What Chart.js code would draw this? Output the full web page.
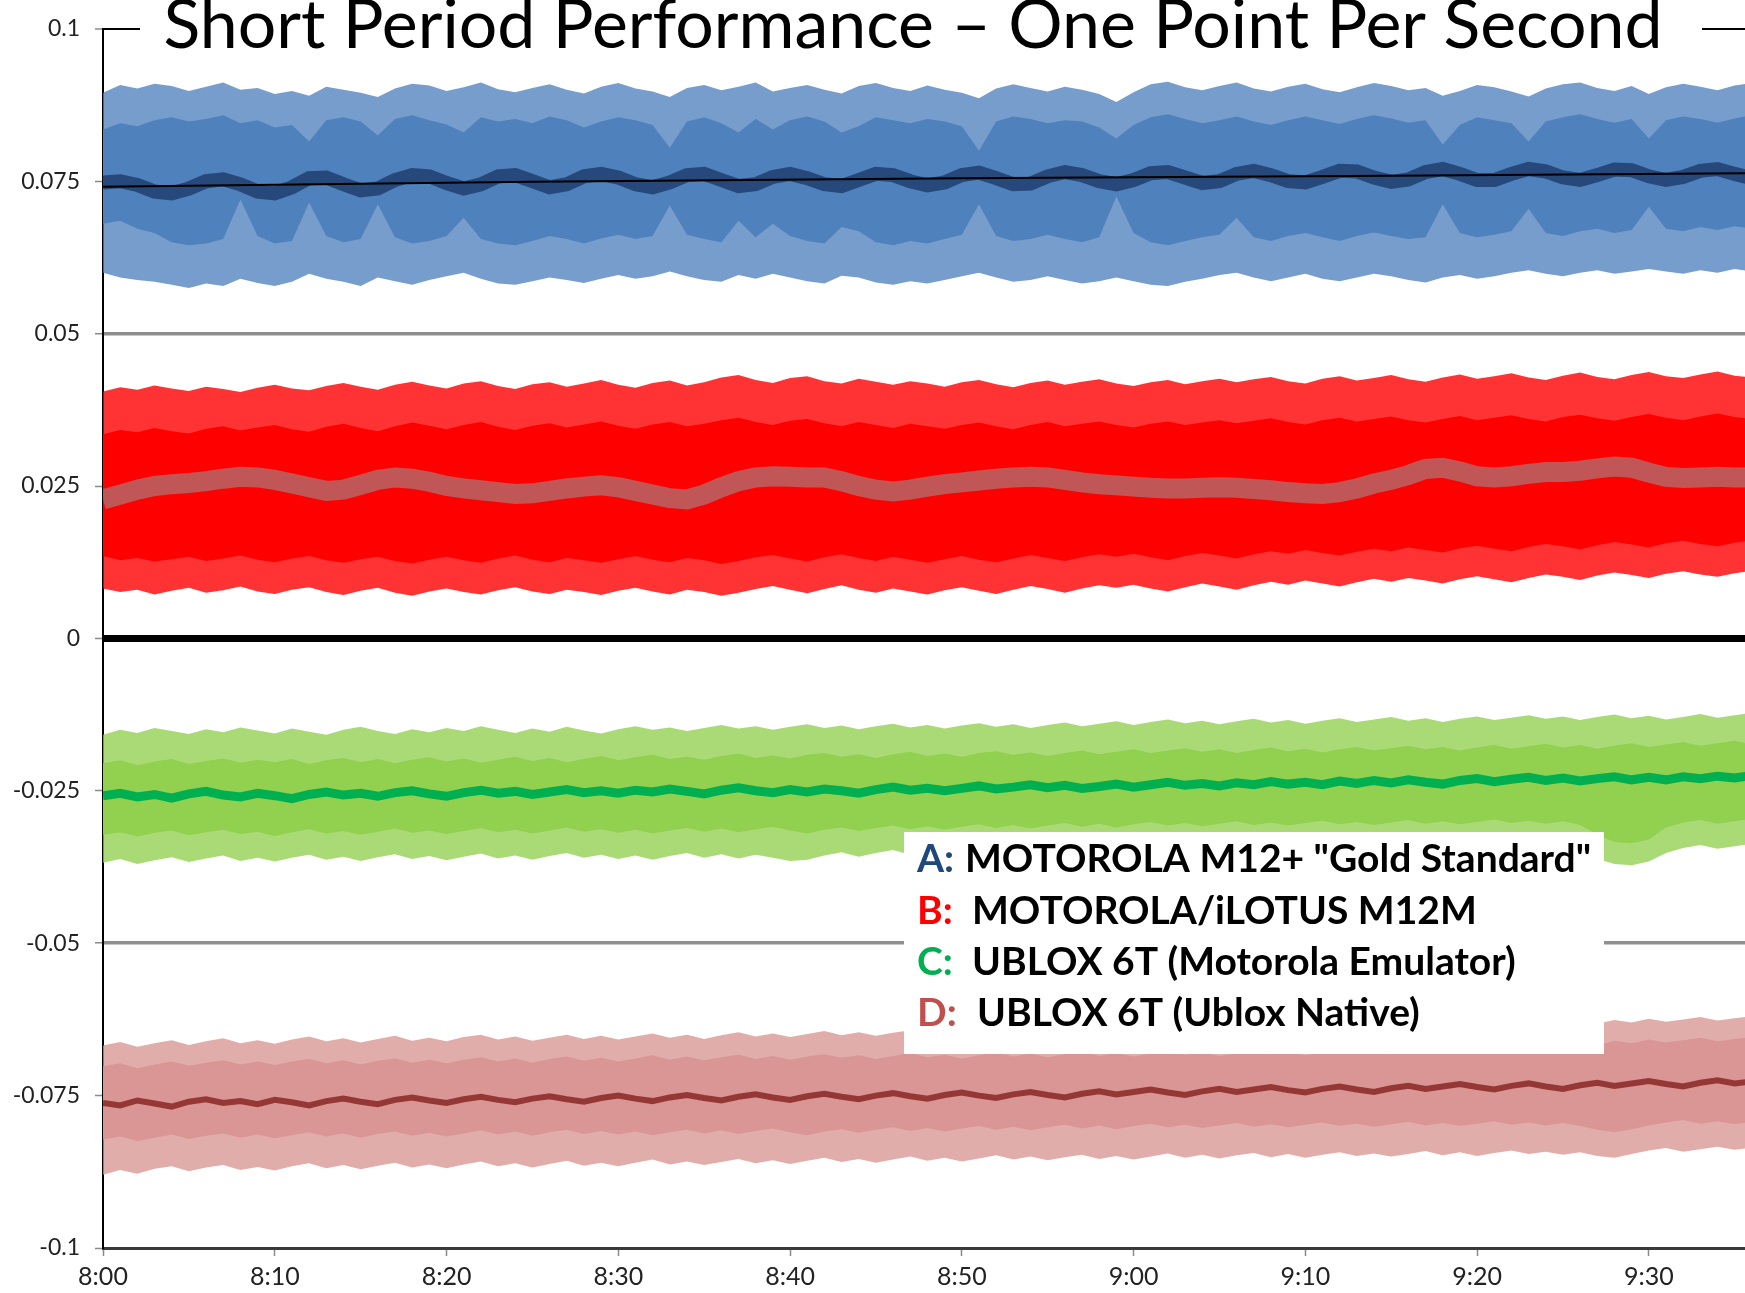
<!DOCTYPE html>
<html>
<head>
<meta charset="utf-8">
<title>Short Period Performance</title>
<script src="https://cdn.jsdelivr.net/npm/chart.js@4.4.0/dist/chart.umd.min.js"></script>
<style>
  html, body { margin: 0; padding: 0; background: #fff; }
  #wrap { position: relative; width: 1745px; height: 1293px; }
</style>
</head>
<body>
<div id="wrap"><canvas id="perfChart"></canvas></div>
<script>
// minutes after 8:00 (one column per minute)
const minutes = [
  0, 1, 2, 3, 4, 5, 6, 7, 8, 9,
  10, 11, 12, 13, 14, 15, 16, 17, 18, 19,
  20, 21, 22, 23, 24, 25, 26, 27, 28, 29,
  30, 31, 32, 33, 34, 35, 36, 37, 38, 39,
  40, 41, 42, 43, 44, 45, 46, 47, 48, 49,
  50, 51, 52, 53, 54, 55, 56, 57, 58, 59,
  60, 61, 62, 63, 64, 65, 66, 67, 68, 69,
  70, 71, 72, 73, 74, 75, 76, 77, 78, 79,
  80, 81, 82, 83, 84, 85, 86, 87, 88, 89,
  90, 91, 92, 93, 94, 95, 96
];

const xTickValues = [0, 10, 20, 30, 40, 50, 60, 70, 80, 90];
const xTickLabels = ['8:00', '8:10', '8:20', '8:30', '8:40', '8:50', '9:00', '9:10', '9:20', '9:30'];
const yTickValues = [-0.1, -0.075, -0.05, -0.025, 0, 0.025, 0.05, 0.075, 0.1];
const yTickLabels = ['-0.1', '-0.075', '-0.05', '-0.025', '0', '0.025', '0.05', '0.075', '0.1'];

// A: MOTOROLA M12+ - spike tips, dense body, dark running core, black trend
const blueMax = [
  0.0895,0.0908,0.0902,0.0910,0.0906,0.0898,0.0905,0.0912,0.0900,0.0903,
  0.0893,0.0898,0.0890,0.0905,0.0900,0.0895,0.0888,0.0902,0.0910,0.0907,
  0.0898,0.0904,0.0912,0.0901,0.0896,0.0903,0.0909,0.0900,0.0894,0.0905,
  0.0911,0.0902,0.0897,0.0888,0.0903,0.0908,0.0899,0.0905,0.0912,0.0897,
  0.0903,0.0908,0.0900,0.0894,0.0906,0.0911,0.0903,0.0898,0.0907,0.0900,
  0.0895,0.0886,0.0902,0.0909,0.0903,0.0897,0.0905,0.0900,0.0893,0.0880,
  0.0896,0.0909,0.0913,0.0904,0.0899,0.0906,0.0912,0.0902,0.0897,0.0905,
  0.0910,0.0901,0.0896,0.0904,0.0911,0.0906,0.0899,0.0903,0.0890,0.0898,
  0.0908,0.0904,0.0897,0.0889,0.0902,0.0909,0.0912,0.0903,0.0898,0.0906,
  0.0893,0.0904,0.0910,0.0905,0.0899,0.0907,0.0911
];
const blueHi = [
  0.0835,0.0845,0.0840,0.0850,0.0855,0.0848,0.0852,0.0858,0.0845,0.0850,
  0.0838,0.0842,0.0815,0.0850,0.0855,0.0848,0.0825,0.0852,0.0858,0.0850,
  0.0843,0.0830,0.0855,0.0848,0.0852,0.0845,0.0856,0.0850,0.0838,0.0848,
  0.0855,0.0850,0.0842,0.0805,0.0848,0.0855,0.0845,0.0830,0.0852,0.0835,
  0.0850,0.0856,0.0848,0.0830,0.0840,0.0855,0.0850,0.0845,0.0852,0.0848,
  0.0840,0.0800,0.0848,0.0856,0.0852,0.0845,0.0850,0.0848,0.0838,0.0820,
  0.0842,0.0855,0.0860,0.0852,0.0845,0.0850,0.0856,0.0848,0.0842,0.0850,
  0.0856,0.0850,0.0844,0.0852,0.0858,0.0853,0.0846,0.0850,0.0810,0.0842,
  0.0855,0.0850,0.0845,0.0815,0.0848,0.0855,0.0860,0.0852,0.0846,0.0852,
  0.0820,0.0850,0.0856,0.0852,0.0846,0.0853,0.0858
];
const blueLo = [
  0.0680,0.0685,0.0672,0.0665,0.0650,0.0645,0.0648,0.0655,0.0720,0.0660,
  0.0648,0.0652,0.0715,0.0660,0.0650,0.0655,0.0712,0.0658,0.0648,0.0652,
  0.0660,0.0690,0.0655,0.0648,0.0645,0.0652,0.0660,0.0655,0.0648,0.0656,
  0.0662,0.0655,0.0660,0.0710,0.0662,0.0655,0.0650,0.0685,0.0658,0.0680,
  0.0660,0.0652,0.0648,0.0675,0.0668,0.0650,0.0645,0.0652,0.0648,0.0655,
  0.0662,0.0712,0.0660,0.0652,0.0655,0.0662,0.0655,0.0650,0.0658,0.0725,
  0.0665,0.0650,0.0645,0.0652,0.0658,0.0662,0.0690,0.0658,0.0652,0.0660,
  0.0665,0.0658,0.0652,0.0660,0.0666,0.0660,0.0655,0.0658,0.0712,0.0665,
  0.0658,0.0662,0.0668,0.0705,0.0665,0.0660,0.0668,0.0672,0.0665,0.0670,
  0.0708,0.0672,0.0668,0.0675,0.0670,0.0676,0.0672
];
const blueMin = [
  0.0600,0.0592,0.0588,0.0585,0.0580,0.0575,0.0582,0.0578,0.0590,0.0583,
  0.0578,0.0585,0.0598,0.0590,0.0585,0.0578,0.0592,0.0586,0.0580,0.0588,
  0.0594,0.0600,0.0590,0.0582,0.0580,0.0586,0.0592,0.0588,0.0583,0.0590,
  0.0596,0.0590,0.0594,0.0602,0.0594,0.0588,0.0585,0.0596,0.0590,0.0598,
  0.0592,0.0586,0.0582,0.0595,0.0592,0.0584,0.0580,0.0586,0.0582,0.0588,
  0.0594,0.0600,0.0592,0.0585,0.0588,0.0594,0.0588,0.0582,0.0586,0.0592,
  0.0586,0.0580,0.0578,0.0585,0.0590,0.0596,0.0600,0.0592,0.0586,0.0592,
  0.0598,0.0590,0.0586,0.0592,0.0598,0.0594,0.0588,0.0584,0.0592,0.0596,
  0.0590,0.0594,0.0600,0.0604,0.0598,0.0594,0.0600,0.0604,0.0598,0.0602,
  0.0606,0.0602,0.0598,0.0604,0.0600,0.0606,0.0602
];
const blueMean = [
  0.0748,0.0750,0.0744,0.0733,0.0730,0.0738,0.0750,0.0753,0.0745,0.0733,
  0.0730,0.0740,0.0755,0.0756,0.0745,0.0735,0.0738,0.0752,0.0760,0.0758,
  0.0747,0.0738,0.0745,0.0758,0.0760,0.0750,0.0740,0.0745,0.0758,0.0762,
  0.0756,0.0745,0.0740,0.0748,0.0760,0.0762,0.0752,0.0742,0.0745,0.0757,
  0.0762,0.0755,0.0745,0.0742,0.0752,0.0762,0.0760,0.0750,0.0743,0.0748,
  0.0760,0.0764,0.0755,0.0745,0.0746,0.0758,0.0765,0.0760,0.0750,0.0745,
  0.0752,0.0763,0.0765,0.0756,0.0747,0.0750,0.0762,0.0767,0.0760,0.0750,
  0.0748,0.0757,0.0767,0.0766,0.0756,0.0749,0.0753,0.0765,0.0770,0.0762,
  0.0752,0.0752,0.0762,0.0770,0.0766,0.0756,0.0752,0.0760,0.0769,0.0768,
  0.0758,0.0752,0.0757,0.0767,0.0770,0.0762,0.0755
];
const trendMinutes = [0, 25, 50, 75, 96];
const blueTrend = [0.0741, 0.0749, 0.0755, 0.0759, 0.0763];

// B: MOTOROLA/iLOTUS M12M
const redMax = [
  0.0405,0.0412,0.0408,0.0415,0.0410,0.0406,0.0413,0.0409,0.0404,0.0411,
  0.0416,0.0410,0.0407,0.0414,0.0419,0.0413,0.0408,0.0416,0.0421,0.0415,
  0.0410,0.0418,0.0422,0.0414,0.0409,0.0417,0.0420,0.0413,0.0418,0.0424,
  0.0416,0.0411,0.0419,0.0423,0.0415,0.0420,0.0428,0.0432,0.0424,0.0419,
  0.0427,0.0430,0.0422,0.0418,0.0426,0.0421,0.0416,0.0422,0.0418,0.0413,
  0.0420,0.0424,0.0417,0.0412,0.0419,0.0423,0.0416,0.0421,0.0425,0.0418,
  0.0414,0.0420,0.0424,0.0417,0.0422,0.0426,0.0420,0.0425,0.0429,0.0422,
  0.0418,0.0426,0.0430,0.0423,0.0427,0.0432,0.0425,0.0421,0.0428,0.0433,
  0.0426,0.0430,0.0435,0.0428,0.0424,0.0431,0.0436,0.0429,0.0425,0.0432,
  0.0437,0.0430,0.0427,0.0433,0.0438,0.0431,0.0428
];
const redHi = [
  0.0335,0.0342,0.0338,0.0345,0.0340,0.0336,0.0344,0.0348,0.0341,0.0346,
  0.0350,0.0343,0.0339,0.0347,0.0352,0.0345,0.0340,0.0348,0.0354,0.0349,
  0.0343,0.0350,0.0355,0.0347,0.0342,0.0349,0.0353,0.0346,0.0351,0.0356,
  0.0349,0.0344,0.0351,0.0355,0.0348,0.0352,0.0358,0.0362,0.0355,0.0350,
  0.0357,0.0360,0.0353,0.0348,0.0355,0.0350,0.0345,0.0352,0.0348,0.0344,
  0.0350,0.0354,0.0348,0.0343,0.0350,0.0355,0.0348,0.0352,0.0356,0.0350,
  0.0346,0.0352,0.0356,0.0350,0.0354,0.0358,0.0353,0.0357,0.0361,0.0355,
  0.0351,0.0358,0.0362,0.0356,0.0360,0.0364,0.0358,0.0354,0.0360,0.0365,
  0.0358,0.0362,0.0366,0.0360,0.0356,0.0363,0.0367,0.0361,0.0357,0.0363,
  0.0368,0.0362,0.0358,0.0364,0.0369,0.0363,0.0360
];
const redLo = [
  0.0135,0.0128,0.0132,0.0126,0.0130,0.0134,0.0127,0.0131,0.0136,0.0129,
  0.0125,0.0131,0.0135,0.0128,0.0124,0.0130,0.0134,0.0127,0.0123,0.0129,
  0.0134,0.0128,0.0124,0.0131,0.0136,0.0129,0.0125,0.0132,0.0128,0.0124,
  0.0130,0.0135,0.0129,0.0125,0.0132,0.0128,0.0122,0.0127,0.0133,0.0137,
  0.0131,0.0126,0.0133,0.0138,0.0132,0.0127,0.0134,0.0129,0.0124,0.0130,
  0.0135,0.0129,0.0125,0.0131,0.0137,0.0132,0.0127,0.0133,0.0138,0.0134,
  0.0139,0.0133,0.0128,0.0135,0.0140,0.0136,0.0131,0.0138,0.0143,0.0139,
  0.0145,0.0140,0.0136,0.0142,0.0147,0.0143,0.0149,0.0145,0.0141,0.0148,
  0.0152,0.0147,0.0143,0.0150,0.0155,0.0151,0.0146,0.0153,0.0158,0.0154,
  0.0149,0.0156,0.0160,0.0155,0.0151,0.0157,0.0161
];
const redMin = [
  0.0082,0.0076,0.0080,0.0072,0.0078,0.0083,0.0075,0.0079,0.0085,0.0077,
  0.0073,0.0080,0.0084,0.0076,0.0071,0.0078,0.0083,0.0075,0.0070,0.0077,
  0.0082,0.0076,0.0072,0.0079,0.0084,0.0077,0.0073,0.0080,0.0076,0.0071,
  0.0078,0.0083,0.0077,0.0072,0.0080,0.0076,0.0070,0.0075,0.0081,0.0086,
  0.0080,0.0074,0.0081,0.0087,0.0080,0.0075,0.0082,0.0077,0.0072,0.0079,
  0.0084,0.0078,0.0073,0.0080,0.0086,0.0081,0.0075,0.0082,0.0087,0.0083,
  0.0088,0.0082,0.0077,0.0084,0.0090,0.0085,0.0080,0.0087,0.0093,0.0088,
  0.0095,0.0090,0.0085,0.0092,0.0098,0.0093,0.0099,0.0095,0.0090,0.0097,
  0.0102,0.0097,0.0092,0.0099,0.0105,0.0101,0.0096,0.0103,0.0108,0.0104,
  0.0099,0.0106,0.0110,0.0105,0.0101,0.0107,0.0111
];
const redMean = [
  0.0228,0.0236,0.0244,0.0250,0.0253,0.0255,0.0258,0.0262,0.0265,0.0264,
  0.0260,0.0254,0.0248,0.0242,0.0244,0.0252,0.0260,0.0264,0.0262,0.0257,
  0.0250,0.0246,0.0243,0.0240,0.0237,0.0238,0.0242,0.0246,0.0249,0.0251,
  0.0248,0.0242,0.0236,0.0230,0.0228,0.0236,0.0248,0.0258,0.0264,0.0266,
  0.0265,0.0264,0.0264,0.0258,0.0250,0.0244,0.0241,0.0244,0.0249,0.0253,
  0.0256,0.0259,0.0262,0.0264,0.0265,0.0264,0.0260,0.0256,0.0253,0.0251,
  0.0249,0.0247,0.0246,0.0246,0.0247,0.0248,0.0247,0.0245,0.0243,0.0240,
  0.0238,0.0237,0.0240,0.0246,0.0254,0.0260,0.0268,0.0278,0.0280,0.0274,
  0.0266,0.0264,0.0266,0.0270,0.0273,0.0273,0.0275,0.0279,0.0282,0.0280,
  0.0272,0.0265,0.0263,0.0264,0.0265,0.0264,0.0264
];

// C: UBLOX 6T (Motorola Emulator)
const greenMax = [
  -0.0158,-0.0150,-0.0155,-0.0147,-0.0152,-0.0157,-0.0149,-0.0154,-0.0146,-0.0151,
  -0.0156,-0.0148,-0.0153,-0.0158,-0.0150,-0.0145,-0.0152,-0.0157,-0.0149,-0.0154,
  -0.0147,-0.0152,-0.0144,-0.0150,-0.0155,-0.0148,-0.0153,-0.0145,-0.0151,-0.0156,
  -0.0149,-0.0144,-0.0150,-0.0146,-0.0152,-0.0147,-0.0142,-0.0148,-0.0144,-0.0150,
  -0.0145,-0.0141,-0.0147,-0.0143,-0.0149,-0.0144,-0.0140,-0.0146,-0.0142,-0.0148,
  -0.0143,-0.0139,-0.0145,-0.0141,-0.0147,-0.0142,-0.0138,-0.0144,-0.0140,-0.0136,
  -0.0142,-0.0137,-0.0133,-0.0139,-0.0135,-0.0141,-0.0136,-0.0132,-0.0138,-0.0134,
  -0.0140,-0.0135,-0.0131,-0.0137,-0.0133,-0.0129,-0.0135,-0.0131,-0.0137,-0.0132,
  -0.0128,-0.0134,-0.0130,-0.0126,-0.0132,-0.0128,-0.0134,-0.0129,-0.0125,-0.0131,
  -0.0127,-0.0133,-0.0129,-0.0124,-0.0130,-0.0126,-0.0122
];
const greenHi = [
  -0.0205,-0.0200,-0.0208,-0.0202,-0.0198,-0.0206,-0.0201,-0.0197,-0.0204,-0.0199,
  -0.0203,-0.0198,-0.0206,-0.0200,-0.0196,-0.0203,-0.0198,-0.0205,-0.0199,-0.0195,
  -0.0202,-0.0197,-0.0204,-0.0199,-0.0194,-0.0201,-0.0196,-0.0203,-0.0198,-0.0193,
  -0.0200,-0.0195,-0.0191,-0.0198,-0.0194,-0.0199,-0.0193,-0.0189,-0.0196,-0.0192,
  -0.0197,-0.0191,-0.0188,-0.0194,-0.0190,-0.0196,-0.0190,-0.0186,-0.0193,-0.0189,
  -0.0194,-0.0188,-0.0185,-0.0191,-0.0187,-0.0193,-0.0188,-0.0184,-0.0190,-0.0186,
  -0.0182,-0.0188,-0.0184,-0.0180,-0.0186,-0.0182,-0.0188,-0.0183,-0.0179,-0.0185,
  -0.0181,-0.0187,-0.0182,-0.0178,-0.0184,-0.0180,-0.0176,-0.0182,-0.0178,-0.0184,
  -0.0179,-0.0175,-0.0181,-0.0177,-0.0173,-0.0179,-0.0175,-0.0181,-0.0176,-0.0172,
  -0.0178,-0.0174,-0.0170,-0.0176,-0.0172,-0.0168,-0.0174
];
const greenLo = [
  -0.0322,-0.0318,-0.0325,-0.0319,-0.0315,-0.0323,-0.0318,-0.0314,-0.0321,-0.0317,
  -0.0324,-0.0318,-0.0313,-0.0320,-0.0316,-0.0322,-0.0317,-0.0312,-0.0319,-0.0315,
  -0.0321,-0.0316,-0.0311,-0.0318,-0.0314,-0.0320,-0.0315,-0.0310,-0.0317,-0.0313,
  -0.0319,-0.0314,-0.0320,-0.0315,-0.0311,-0.0317,-0.0312,-0.0318,-0.0313,-0.0309,
  -0.0315,-0.0320,-0.0314,-0.0310,-0.0316,-0.0311,-0.0307,-0.0313,-0.0308,-0.0314,
  -0.0309,-0.0305,-0.0311,-0.0306,-0.0312,-0.0307,-0.0303,-0.0309,-0.0304,-0.0310,
  -0.0305,-0.0301,-0.0307,-0.0303,-0.0308,-0.0304,-0.0300,-0.0306,-0.0302,-0.0307,
  -0.0303,-0.0299,-0.0305,-0.0301,-0.0306,-0.0302,-0.0298,-0.0304,-0.0300,-0.0305,
  -0.0301,-0.0297,-0.0303,-0.0299,-0.0304,-0.0300,-0.0306,-0.0322,-0.0334,-0.0336,
  -0.0330,-0.0310,-0.0302,-0.0298,-0.0304,-0.0300,-0.0296
];
const greenMin = [
  -0.0368,-0.0362,-0.0370,-0.0364,-0.0359,-0.0367,-0.0361,-0.0356,-0.0365,-0.0360,
  -0.0366,-0.0360,-0.0355,-0.0363,-0.0358,-0.0365,-0.0359,-0.0354,-0.0362,-0.0357,
  -0.0364,-0.0358,-0.0353,-0.0361,-0.0356,-0.0363,-0.0357,-0.0352,-0.0360,-0.0355,
  -0.0362,-0.0356,-0.0363,-0.0357,-0.0352,-0.0360,-0.0354,-0.0361,-0.0355,-0.0360,
  -0.0365,-0.0363,-0.0356,-0.0351,-0.0358,-0.0352,-0.0347,-0.0355,-0.0349,-0.0356,
  -0.0350,-0.0346,-0.0353,-0.0347,-0.0354,-0.0348,-0.0344,-0.0351,-0.0345,-0.0352,
  -0.0346,-0.0342,-0.0349,-0.0344,-0.0350,-0.0345,-0.0341,-0.0348,-0.0343,-0.0349,
  -0.0344,-0.0340,-0.0347,-0.0342,-0.0348,-0.0343,-0.0339,-0.0346,-0.0341,-0.0347,
  -0.0342,-0.0338,-0.0345,-0.0340,-0.0346,-0.0341,-0.0350,-0.0362,-0.0370,-0.0372,
  -0.0366,-0.0352,-0.0344,-0.0339,-0.0345,-0.0341,-0.0337
];
const greenMean = [
  -0.0258,-0.0254,-0.0260,-0.0256,-0.0262,-0.0255,-0.0251,-0.0257,-0.0260,-0.0254,
  -0.0258,-0.0263,-0.0256,-0.0252,-0.0257,-0.0254,-0.0259,-0.0253,-0.0250,-0.0255,
  -0.0259,-0.0253,-0.0249,-0.0254,-0.0251,-0.0256,-0.0252,-0.0248,-0.0253,-0.0250,
  -0.0254,-0.0249,-0.0252,-0.0247,-0.0251,-0.0255,-0.0249,-0.0245,-0.0250,-0.0253,
  -0.0248,-0.0252,-0.0247,-0.0250,-0.0254,-0.0248,-0.0244,-0.0249,-0.0246,-0.0250,
  -0.0246,-0.0242,-0.0247,-0.0244,-0.0240,-0.0245,-0.0241,-0.0246,-0.0243,-0.0239,
  -0.0244,-0.0240,-0.0236,-0.0241,-0.0238,-0.0242,-0.0237,-0.0240,-0.0235,-0.0239,
  -0.0236,-0.0240,-0.0234,-0.0238,-0.0233,-0.0237,-0.0232,-0.0236,-0.0239,-0.0233,
  -0.0230,-0.0235,-0.0231,-0.0228,-0.0233,-0.0229,-0.0234,-0.0230,-0.0227,-0.0232,
  -0.0228,-0.0232,-0.0227,-0.0230,-0.0226,-0.0229,-0.0225
];

// D: UBLOX 6T (Ublox Native)
const brownMax = [
  -0.0668,-0.0662,-0.0670,-0.0664,-0.0659,-0.0667,-0.0661,-0.0656,-0.0664,-0.0659,
  -0.0665,-0.0658,-0.0653,-0.0661,-0.0656,-0.0663,-0.0657,-0.0652,-0.0660,-0.0655,
  -0.0661,-0.0654,-0.0650,-0.0658,-0.0653,-0.0660,-0.0655,-0.0650,-0.0657,-0.0652,
  -0.0658,-0.0653,-0.0648,-0.0655,-0.0650,-0.0657,-0.0651,-0.0646,-0.0653,-0.0648,
  -0.0654,-0.0649,-0.0644,-0.0651,-0.0646,-0.0652,-0.0647,-0.0643,-0.0650,-0.0645,
  -0.0651,-0.0646,-0.0642,-0.0649,-0.0644,-0.0650,-0.0645,-0.0641,-0.0648,-0.0643,
  -0.0649,-0.0644,-0.0640,-0.0647,-0.0642,-0.0648,-0.0643,-0.0639,-0.0646,-0.0641,
  -0.0647,-0.0642,-0.0638,-0.0645,-0.0640,-0.0646,-0.0641,-0.0637,-0.0644,-0.0640,
  -0.0645,-0.0640,-0.0636,-0.0643,-0.0638,-0.0644,-0.0639,-0.0632,-0.0626,-0.0630,
  -0.0624,-0.0629,-0.0625,-0.0621,-0.0627,-0.0623,-0.0620
];
const brownHi = [
  -0.0702,-0.0697,-0.0705,-0.0699,-0.0694,-0.0701,-0.0696,-0.0692,-0.0699,-0.0694,
  -0.0700,-0.0694,-0.0690,-0.0697,-0.0692,-0.0699,-0.0693,-0.0689,-0.0696,-0.0691,
  -0.0697,-0.0691,-0.0687,-0.0694,-0.0689,-0.0696,-0.0690,-0.0686,-0.0693,-0.0688,
  -0.0694,-0.0689,-0.0684,-0.0691,-0.0686,-0.0692,-0.0687,-0.0683,-0.0690,-0.0685,
  -0.0691,-0.0686,-0.0682,-0.0688,-0.0684,-0.0690,-0.0685,-0.0680,-0.0687,-0.0683,
  -0.0689,-0.0684,-0.0679,-0.0686,-0.0681,-0.0687,-0.0682,-0.0678,-0.0685,-0.0680,
  -0.0686,-0.0681,-0.0677,-0.0683,-0.0679,-0.0685,-0.0680,-0.0676,-0.0682,-0.0678,
  -0.0684,-0.0679,-0.0675,-0.0681,-0.0677,-0.0682,-0.0678,-0.0674,-0.0680,-0.0676,
  -0.0681,-0.0677,-0.0673,-0.0679,-0.0675,-0.0680,-0.0676,-0.0668,-0.0660,-0.0664,
  -0.0658,-0.0663,-0.0659,-0.0655,-0.0661,-0.0657,-0.0654
];
const brownLo = [
  -0.0822,-0.0817,-0.0825,-0.0819,-0.0814,-0.0821,-0.0816,-0.0812,-0.0819,-0.0814,
  -0.0820,-0.0815,-0.0810,-0.0817,-0.0812,-0.0819,-0.0813,-0.0809,-0.0816,-0.0811,
  -0.0817,-0.0812,-0.0807,-0.0814,-0.0809,-0.0816,-0.0810,-0.0806,-0.0813,-0.0808,
  -0.0814,-0.0809,-0.0815,-0.0810,-0.0806,-0.0812,-0.0807,-0.0813,-0.0808,-0.0804,
  -0.0810,-0.0815,-0.0809,-0.0805,-0.0811,-0.0806,-0.0802,-0.0808,-0.0803,-0.0809,
  -0.0804,-0.0800,-0.0806,-0.0801,-0.0807,-0.0802,-0.0798,-0.0804,-0.0799,-0.0805,
  -0.0800,-0.0796,-0.0802,-0.0798,-0.0803,-0.0799,-0.0795,-0.0801,-0.0797,-0.0802,
  -0.0798,-0.0794,-0.0800,-0.0796,-0.0801,-0.0797,-0.0793,-0.0799,-0.0795,-0.0800,
  -0.0796,-0.0792,-0.0798,-0.0794,-0.0799,-0.0795,-0.0800,-0.0806,-0.0810,-0.0805,
  -0.0799,-0.0794,-0.0790,-0.0796,-0.0792,-0.0797,-0.0793
];
const brownMin = [
  -0.0880,-0.0872,-0.0878,-0.0870,-0.0866,-0.0874,-0.0868,-0.0864,-0.0872,-0.0867,
  -0.0873,-0.0866,-0.0861,-0.0869,-0.0864,-0.0871,-0.0865,-0.0860,-0.0868,-0.0863,
  -0.0869,-0.0863,-0.0858,-0.0866,-0.0861,-0.0868,-0.0862,-0.0857,-0.0865,-0.0860,
  -0.0866,-0.0860,-0.0855,-0.0863,-0.0858,-0.0864,-0.0859,-0.0854,-0.0861,-0.0856,
  -0.0862,-0.0857,-0.0852,-0.0859,-0.0854,-0.0860,-0.0855,-0.0850,-0.0857,-0.0852,
  -0.0858,-0.0853,-0.0848,-0.0855,-0.0850,-0.0856,-0.0851,-0.0847,-0.0854,-0.0849,
  -0.0855,-0.0850,-0.0845,-0.0852,-0.0847,-0.0853,-0.0848,-0.0844,-0.0851,-0.0846,
  -0.0852,-0.0847,-0.0843,-0.0849,-0.0845,-0.0850,-0.0846,-0.0841,-0.0848,-0.0843,
  -0.0849,-0.0844,-0.0840,-0.0846,-0.0842,-0.0847,-0.0843,-0.0849,-0.0852,-0.0846,
  -0.0840,-0.0836,-0.0842,-0.0838,-0.0834,-0.0839,-0.0835
];
const brownMean = [
  -0.0762,-0.0766,-0.0758,-0.0763,-0.0768,-0.0760,-0.0756,-0.0762,-0.0759,-0.0764,
  -0.0757,-0.0761,-0.0766,-0.0759,-0.0755,-0.0760,-0.0764,-0.0757,-0.0753,-0.0758,
  -0.0762,-0.0756,-0.0752,-0.0757,-0.0761,-0.0755,-0.0751,-0.0756,-0.0760,-0.0754,
  -0.0750,-0.0755,-0.0759,-0.0753,-0.0749,-0.0754,-0.0758,-0.0752,-0.0748,-0.0753,
  -0.0757,-0.0751,-0.0747,-0.0752,-0.0756,-0.0750,-0.0746,-0.0751,-0.0755,-0.0749,
  -0.0745,-0.0750,-0.0754,-0.0748,-0.0744,-0.0749,-0.0753,-0.0747,-0.0743,-0.0748,
  -0.0744,-0.0740,-0.0745,-0.0749,-0.0743,-0.0739,-0.0744,-0.0740,-0.0736,-0.0741,
  -0.0745,-0.0739,-0.0735,-0.0740,-0.0744,-0.0738,-0.0734,-0.0739,-0.0735,-0.0731,
  -0.0736,-0.0740,-0.0734,-0.0730,-0.0735,-0.0739,-0.0733,-0.0729,-0.0734,-0.0730,
  -0.0726,-0.0731,-0.0735,-0.0729,-0.0725,-0.0730,-0.0727
];

const titleText = 'Short Period Performance \u2013 One Point Per Second';
const legendKeys = ['A:', 'B:', 'C:', 'D:'];
const legendNames = ['MOTOROLA M12+ "Gold Standard"', 'MOTOROLA/iLOTUS M12M', 'UBLOX 6T (Motorola Emulator)', 'UBLOX 6T (Ublox Native)'];
const legendColors = ['#1F497D', '#FF0000', '#00B050', '#C0504D'];

// pixel layout of the overlay boxes
const legendBox = { x: 904, y: 832, w: 700, h: 222 };
const legendKeyX = 917;
const legendNameX = [965, 972, 972, 977];
const legendBaseY = [872, 924, 975, 1026];

function toPoints(xs, ys) {
    return ys.map((y, i) => ({ x: xs[i], y: y }));
}

const datasets = [];
function addBand(hi, lo, color) {
    const idx = datasets.length;
    datasets.push({ data: toPoints(minutes, hi), fill: { target: idx + 1 }, backgroundColor: color, borderWidth: 0, pointRadius: 0 });
    datasets.push({ data: toPoints(minutes, lo), fill: false, borderWidth: 0, pointRadius: 0 });
}
function addLine(xs, ys, color, width) {
    datasets.push({ data: toPoints(xs, ys), fill: false, borderColor: color, borderWidth: width, pointRadius: 0, tension: 0 });
}

addBand(blueMax, blueMin, 'rgba(79, 129, 189, 0.78)');
addBand(blueHi, blueLo, '#4F81BD');
addLine(minutes, blueMean, 'rgba(28, 58, 105, 0.8)', 14);
addLine(trendMinutes, blueTrend, '#000000', 2);

addBand(redMax, redMin, 'rgba(255, 0, 0, 0.8)');
addBand(redHi, redLo, '#FF0000');
addLine(minutes, redMean, 'rgba(185, 95, 95, 0.9)', 20);

addBand(greenMax, greenMin, 'rgba(146, 208, 80, 0.78)');
addBand(greenHi, greenLo, '#92D050');
addLine(minutes, greenMean, '#00B050', 9);

addBand(brownMax, brownMin, 'rgba(217, 150, 148, 0.78)');
addBand(brownHi, brownLo, '#D99694');
addLine(minutes, brownMean, '#953735', 6);

// first pushed is drawn first (at the bottom)
datasets.forEach((d, i) => { d.order = -i; });

const overlayPlugin = {
    id: 'overlay',
    afterDraw(chart) {
        const ctx = chart.ctx;
        ctx.save();
        // title sits on top of the 0.1 line
        ctx.fillStyle = '#ffffff';
        ctx.fillRect(140, 0, 1562, 58);
        ctx.fillStyle = '#000000';
        ctx.font = '68px Lato';
        ctx.textAlign = 'center';
        ctx.textBaseline = 'alphabetic';
        ctx.fillText(titleText, 913, 48);
        // legend box
        ctx.fillStyle = '#ffffff';
        ctx.fillRect(legendBox.x, legendBox.y, legendBox.w, legendBox.h);
        ctx.textAlign = 'left';
        ctx.font = 'bold 39px Lato';
        legendKeys.forEach((k, i) => {
            ctx.fillStyle = legendColors[i];
            ctx.fillText(k, legendKeyX, legendBaseY[i]);
            ctx.fillStyle = '#000000';
            ctx.fillText(legendNames[i], legendNameX[i], legendBaseY[i]);
        });
        ctx.restore();
    }
};

function near(a, b) { return Math.abs(a - b) < 1e-9; }

function makeChart() {
    const ctx = document.getElementById('perfChart').getContext('2d');
    new Chart(ctx, {
        type: 'line',
        data: { datasets: datasets },
        options: {
            responsive: true,
            maintainAspectRatio: false,
            devicePixelRatio: 1,
            animation: false,
            events: [],
            layout: { padding: { top: 22, right: 0, left: 0, bottom: 0 } },
            plugins: {
                legend: { display: false },
                title: { display: false },
                tooltip: { enabled: false }
            },
            scales: {
                x: {
                    type: 'linear',
                    min: 0,
                    max: 95.6,
                    afterBuildTicks: s => { s.ticks = xTickValues.map(v => ({ value: v })); },
                    afterFit: s => { s.height = 45; },
                    grid: { drawOnChartArea: false, tickLength: 8, tickColor: '#8a8a8a', tickWidth: 1.5 },
                    border: { color: '#3a3a3a', width: 3 },
                    ticks: {
                        autoSkip: false,
                        maxRotation: 0,
                        padding: 6,
                        color: '#222',
                        font: { family: 'Lato', size: 25 },
                        callback: v => xTickLabels[xTickValues.indexOf(v)]
                    }
                },
                y: {
                    min: -0.1,
                    max: 0.1,
                    afterBuildTicks: s => { s.ticks = yTickValues.map(v => ({ value: v })); },
                    afterFit: s => { s.width = 103; },
                    grid: {
                        tickLength: 8,
                        tickColor: '#8a8a8a',
                        tickWidth: 1.5,
                        color: c => {
                            const v = c.tick ? c.tick.value : null;
                            if (v === null) return 'rgba(0,0,0,0)';
                            if (near(v, 0) || near(v, 0.1)) return '#000000';
                            if (near(Math.abs(v), 0.05)) return '#8f8f8f';
                            return 'rgba(0,0,0,0)';
                        },
                        lineWidth: c => {
                            const v = c.tick ? c.tick.value : null;
                            if (v === null) return 1;
                            if (near(v, 0)) return 7;
                            if (near(v, 0.1)) return 2;
                            if (near(Math.abs(v), 0.05)) return 3.5;
                            return 1;
                        }
                    },
                    border: { color: '#000000', width: 2 },
                    ticks: {
                        padding: 15,
                        color: '#222',
                        font: { family: 'Lato', size: 23 },
                        callback: v => yTickLabels[yTickValues.findIndex(t => near(t, v))]
                    }
                }
            }
        },
        plugins: [overlayPlugin]
    });
}

Promise.all([
    document.fonts.load('68px Lato'),
    document.fonts.load('bold 39px Lato'),
    document.fonts.load('23px Lato')
]).catch(() => null).then(makeChart);
</script>
</body>
</html>
